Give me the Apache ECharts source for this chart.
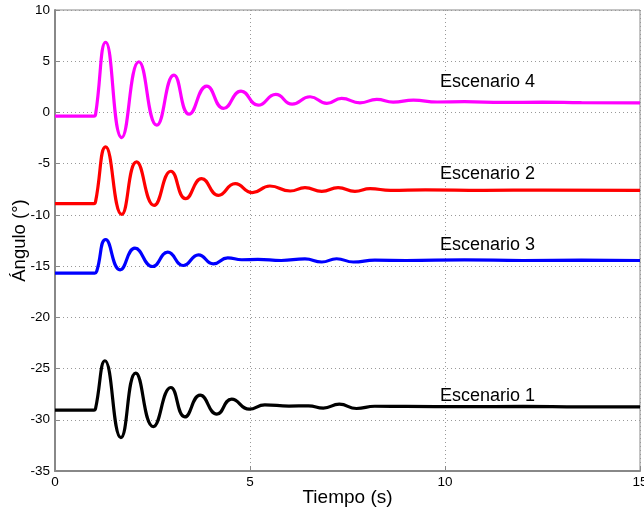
<!DOCTYPE html>
<html>
<head>
<meta charset="utf-8">
<script src="https://cdn.jsdelivr.net/npm/echarts@6/dist/echarts.min.js"></script>
<style>
  html, body { margin: 0; padding: 0; background: #fff; }
  #chart { width: 644px; height: 517px; }
</style>
</head>
<body>
<div id="chart"></div>
<script>
// Escenario 1 (negro)
var t1 = [0, 1.0, 1.04, 1.28, 1.69, 2.07, 2.52, 2.97, 3.33, 3.72, 4.15, 4.53, 4.98, 5.38, 6.0, 6.5, 6.88, 7.29, 7.73, 8.2, 9, 10.5, 12, 13.5, 15];
var a1 = [-29.06, -29.06, -28.9, -24.24, -31.74, -25.44, -30.67, -26.85, -29.72, -27.6, -29.45, -27.98, -28.96, -28.54, -28.66, -28.64, -28.86, -28.48, -28.9, -28.68, -28.7, -28.72, -28.7, -28.74, -28.74];
// Escenario 2 (rojo)
var t2 = [0, 1.0, 1.04, 1.30, 1.71, 2.09, 2.54, 2.97, 3.35, 3.76, 4.19, 4.62, 5.06, 5.51, 6.03, 6.41, 6.84, 7.26, 7.69, 8.08, 8.6, 9.5, 11, 12.5, 15];
var a2 = [-8.9, -8.9, -8.7, -3.37, -9.95, -4.83, -9.07, -5.74, -8.42, -6.46, -8.09, -6.95, -7.83, -7.18, -7.67, -7.34, -7.70, -7.34, -7.70, -7.44, -7.6, -7.55, -7.6, -7.58, -7.6];
// Escenario 3 (azul)
var t3 = [0, 1.02, 1.07, 1.30, 1.67, 2.05, 2.50, 2.89, 3.29, 3.68, 4.06, 4.43, 4.79, 5.2, 5.8, 6.41, 6.84, 7.22, 7.65, 8.2, 9, 10.5, 12, 13.5, 15];
var a3 = [-15.69, -15.69, -15.5, -12.4, -15.36, -13.25, -15.04, -13.64, -14.94, -13.9, -14.78, -14.19, -14.38, -14.35, -14.45, -14.3, -14.6, -14.28, -14.6, -14.42, -14.45, -14.4, -14.45, -14.42, -14.45];
// Escenario 4 (magenta)
var t4 = [0, 1.0, 1.04, 1.30, 1.71, 2.15, 2.61, 3.05, 3.44, 3.89, 4.32, 4.77, 5.21, 5.66, 6.08, 6.54, 6.97, 7.35, 7.82, 8.25, 8.67, 9.19, 9.8, 10.5, 11.5, 12.5, 13.5, 15];
var a4 = [-0.36, -0.36, -0.2, 6.85, -2.45, 4.95, -1.24, 3.65, -0.17, 2.57, 0.39, 2.08, 0.71, 1.76, 0.81, 1.53, 0.88, 1.37, 0.94, 1.27, 1.0, 1.2, 1.02, 1.05, 0.98, 1.0, 0.96, 0.94];

var names = ['Escenario 1', 'Escenario 2', 'Escenario 3', 'Escenario 4'];
var colors = ['#000000', '#ff0000', '#0000ff', '#ff00ff'];
// posicion de los textos (en unidades de datos)
var labelX = [9.87, 9.87, 9.87, 9.87];
var labelY = [-27.7, -6.04, -12.98, 2.96];

function pairs(t, a) {
    var out = [];
    for (var i = 0; i < t.length; i++) {
        out.push([t[i], a[i]]);
    }
    return out;
}

var allT = [t1, t2, t3, t4];
var allA = [a1, a2, a3, a4];
var series = [];
for (var k = 0; k < 4; k++) {
    series.push({
        name: names[k],
        type: 'line',
        data: pairs(allT[k], allA[k]),
        smooth: 0.5,
        showSymbol: false,
        lineStyle: { color: colors[k], width: 3.2 },
        itemStyle: { color: colors[k] },
        silent: true
    });
}

var splitStyle = { show: true, lineStyle: { color: '#999', type: [1, 3], width: 1 } };

var option = {
    animation: false,
    backgroundColor: '#fff',
    grid: {
        left: 55, right: 4, top: 10, bottom: 46,
        outerBoundsMode: 'none',
        containLabel: false,
        show: true, borderColor: '#888', borderWidth: 1
    },
    xAxis: {
        type: 'value',
        min: 0, max: 15, interval: 5,
        name: 'Tiempo (s)',
        nameLocation: 'middle',
        nameGap: 17,
        nameMoveOverlap: false,
        nameTextStyle: { color: '#000', fontSize: 19, fontFamily: 'Liberation Sans' },
        axisLine: { show: true, onZero: false, lineStyle: { color: '#888', width: 2 } },
        axisTick: { show: true, inside: true, length: 5, lineStyle: { color: '#888' } },
        axisLabel: { color: '#000', fontSize: 13.5, fontFamily: 'Liberation Sans', margin: 4 },
        splitLine: splitStyle
    },
    yAxis: {
        type: 'value',
        min: -35, max: 10, interval: 5,
        name: 'Ángulo (°)',
        nameLocation: 'middle',
        nameGap: 26,
        nameMoveOverlap: false,
        nameRotate: 90,
        nameTextStyle: { color: '#000', fontSize: 18.5, fontFamily: 'Liberation Sans' },
        axisLine: { show: true, onZero: false, lineStyle: { color: '#888', width: 2 } },
        axisTick: { show: true, inside: true, length: 5, lineStyle: { color: '#888' } },
        axisLabel: { color: '#000', fontSize: 13.5, fontFamily: 'Liberation Sans', margin: 5 },
        splitLine: splitStyle
    },
    series: series
};

var myChart = echarts.init(document.getElementById('chart'));
myChart.setOption(option);

var texts = [];
for (var j = 0; j < 4; j++) {
    var p = myChart.convertToPixel({ gridIndex: 0 }, [labelX[j], labelY[j]]);
    texts.push({
        type: 'text',
        x: p[0], y: p[1],
        style: {
            text: names[j], fill: '#000', fontSize: 18,
            fontFamily: 'Liberation Sans', align: 'left', verticalAlign: 'middle'
        }
    });
}
myChart.setOption({ graphic: texts });
</script>
</body>
</html>
